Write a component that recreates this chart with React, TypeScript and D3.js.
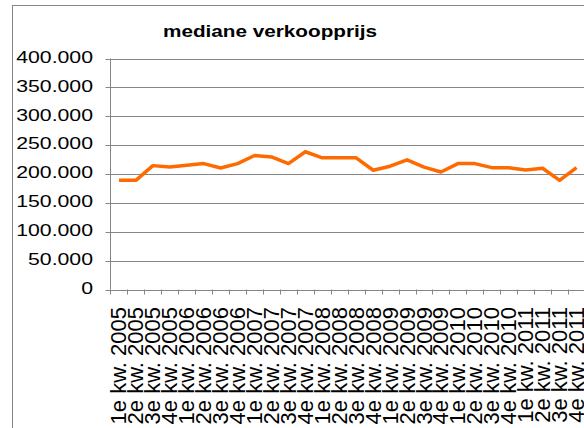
import React from "react";
import * as d3 from "d3";

const categories: string[] = [
  "1e kw. 2005", "2e kw. 2005", "3e kw. 2005", "4e kw. 2005",
  "1e kw. 2006", "2e kw. 2006", "3e kw. 2006", "4e kw. 2006",
  "1e kw. 2007", "2e kw. 2007", "3e kw. 2007", "4e kw. 2007",
  "1e kw. 2008", "2e kw. 2008", "3e kw. 2008", "4e kw. 2008",
  "1e kw. 2009", "2e kw. 2009", "3e kw. 2009", "4e kw. 2009",
  "1e kw. 2010", "2e kw. 2010", "3e kw. 2010", "4e kw. 2010",
  "1e kw. 2011", "2e kw. 2011", "3e kw. 2011", "4e kw. 2011",
];

const prices: number[] = [
  189000, 189000, 214500, 212000, 215000, 218000, 210500, 218000,
  232000, 229500, 218000, 238500, 228000, 228000, 228000, 206500,
  213500, 224500, 212000, 203500, 218000, 218000, 211000, 211000,
  207000, 210000, 189000, 211000,
];

const yTicks: number[] = [0, 50000, 100000, 150000, 200000, 250000, 300000, 350000, 400000];
const yTickLabels: string[] = ["0", "50.000", "100.000", "150.000", "200.000", "250.000", "300.000", "350.000", "400.000"];

const title = "mediane verkoopprijs";

const W = 584;
const H = 428;
const left = 110.5;
const right = 585;
const top = 58.5;
const bottom = 289.5;
const font = "Arial, 'Liberation Sans', sans-serif";
const grey = "#868686";

export default function App() {
  const x = d3.scaleBand<string>().domain(categories).range([left, right]).padding(0);
  const y = d3.scaleLinear().domain([0, 400000]).range([bottom, top]);
  const line = d3
    .line<number>()
    .x((_, i) => (x(categories[i]) as number) + x.bandwidth() / 2)
    .y((d) => y(d));

  return (
    <svg
      width={W}
      height={H}
      style={{ position: "absolute", left: 0, top: 0, background: "#fff" }}
    >
      <rect x={0} y={0} width={W} height={H} fill="#fff" />
      {/* outer border */}
      <rect x={12.5} y={5.5} width={W + 20} height={H + 20} fill="none" stroke={grey} strokeWidth={1} />
      <text
        x={163}
        y={37}
        fontFamily={font}
        fontWeight="bold"
        fontSize={16}
        textLength={214}
        lengthAdjust="spacingAndGlyphs"
        fill="#000"
      >
        {title}
      </text>
      {/* gridlines */}
      {yTicks.map((t) => (
        <line key={"g" + t} x1={left - 5} x2={right} y1={Math.round(y(t)) + 0.5} y2={Math.round(y(t)) + 0.5} stroke={grey} strokeWidth={1} />
      ))}
      {/* y axis */}
      <line x1={left} x2={left} y1={top} y2={bottom} stroke={grey} strokeWidth={1} />
      {yTicks.map((t, i) => (
        <text
          key={"yl" + t}
          transform={`translate(93, ${y(t) + 4.3}) scale(1.25,1)`}
          textAnchor="end"
          fontFamily={font}
          fontSize={17}
          fill="#000"
        >
          {yTickLabels[i]}
        </text>
      ))}
      {/* x ticks */}
      {categories.map((c) => (
        <line
          key={"xt" + c}
          x1={Math.round(x(c) as number) + 0.5}
          x2={Math.round(x(c) as number) + 0.5}
          y1={bottom}
          y2={bottom + 5}
          stroke={grey}
          strokeWidth={1}
        />
      ))}
      {categories.map((c) => {
        const cx = (x(c) as number) + x.bandwidth() / 2 + 7.5;
        return (
          <text
            key={"xl" + c}
            transform={`translate(${cx}, 307) rotate(-90)`}
            textAnchor="end"
            fontFamily={font}
            fontSize={22}
            fill="#000"
          >
            {c}
          </text>
        );
      })}
      <path d={line(prices) || ""} fill="none" stroke="#ff6a00" strokeWidth={3.5} strokeLinejoin="round" />
    </svg>
  );
}
